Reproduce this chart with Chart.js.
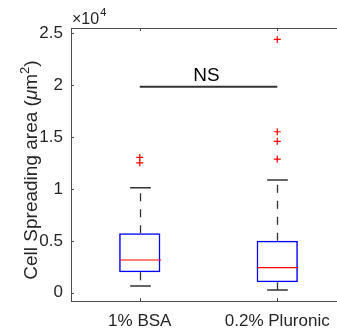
<!DOCTYPE html>
<html lang="en">
<head>
<meta charset="UTF-8" />
<style>
  html, body { margin: 0; padding: 0; background: #fff; overflow: hidden; }
  #wrap { width: 360px; height: 330px; }
</style>
<script src="https://cdn.jsdelivr.net/npm/chart.js"></script>
<title>Cell spreading area</title>
</head>
<body>
<div id="wrap"><canvas id="box" width="360" height="330"></canvas></div>
<script>
// values (um^2)
const groups = ["1% BSA", "0.2% Pluronic"];
const q1 = [1970, 1000];
const median = [3150, 2410];
const q3 = [5720, 5010];
const whiskerLow = [650, 260];
const whiskerHigh = [10120, 10860];
const outliersBSA = [12520, 13040];
const outliersPluronic = [12880, 14590, 15510, 24410];
const yTicks = [0, 5000, 10000, 15000, 20000, 25000];
const sigLevel = 19850;
const sigLabel = "NS";

const FONT = "'Liberation Sans', Arial, sans-serif";
const TXT = "#262626";
const AX = "#4d4d4d";

const outlierPts = outliersBSA.map(v => ({ x: groups[0], y: v }))
  .concat(outliersPluronic.map(v => ({ x: groups[1], y: v })));

// whiskers, caps, medians, frame, labels
const boxParts = {
  id: "boxParts",
  afterDatasetsDraw(chart) {
    const { ctx, chartArea: a, scales: { x, y } } = chart;
    const cat = a.width / groups.length;
    ctx.save();
    groups.forEach((g, i) => {
      const cx = Math.round(x.getPixelForValue(i)) + 0.5;
      const half = cat * 0.15, cap = cat * 0.075;
      ctx.strokeStyle = "#333";
      ctx.lineWidth = 1.3;
      ctx.setLineDash([8, 8]);
      ctx.beginPath();
      ctx.moveTo(cx, y.getPixelForValue(q3[i]));
      ctx.lineTo(cx, y.getPixelForValue(whiskerHigh[i]));
      ctx.moveTo(cx, y.getPixelForValue(q1[i]));
      ctx.lineTo(cx, y.getPixelForValue(whiskerLow[i]));
      ctx.stroke();
      ctx.setLineDash([]);
      ctx.lineWidth = 1.5;
      ctx.beginPath();
      [whiskerHigh[i], whiskerLow[i]].forEach(v => {
        const py = y.getPixelForValue(v);
        ctx.moveTo(cx - cap, py);
        ctx.lineTo(cx + cap, py);
      });
      ctx.stroke();
      ctx.strokeStyle = "#ff0000";
      ctx.lineWidth = 1.2;
      ctx.beginPath();
      const my = y.getPixelForValue(median[i]);
      ctx.moveTo(cx - half, my);
      ctx.lineTo(cx + half, my);
      ctx.stroke();
    });

    // significance label
    ctx.fillStyle = "#000";
    ctx.font = "19px " + FONT;
    ctx.textAlign = "center";
    ctx.textBaseline = "alphabetic";
    const mx = (x.getPixelForValue(0) + x.getPixelForValue(1)) / 2 - 2;
    ctx.fillText(sigLabel, mx, y.getPixelForValue(sigLevel) - 6);
    ctx.restore();
  },
  afterDraw(chart) {
    const { ctx, chartArea: a, scales: { x, y } } = chart;
    ctx.save();
    // frame
    ctx.strokeStyle = AX;
    ctx.lineWidth = 1;
    ctx.strokeRect(Math.round(a.left) + 0.5, Math.round(a.top) + 0.5,
      Math.round(a.width), Math.round(a.height));
    // inward ticks
    ctx.beginPath();
    yTicks.forEach(v => {
      const py = Math.round(y.getPixelForValue(v)) + 0.5;
      ctx.moveTo(a.left, py); ctx.lineTo(a.left + 3, py);
    });
    groups.forEach((g, i) => {
      const px = Math.round(x.getPixelForValue(i)) + 0.5;
      ctx.moveTo(px, a.bottom); ctx.lineTo(px, a.bottom - 3);
      ctx.moveTo(px, a.top); ctx.lineTo(px, a.top + 3);
    });
    ctx.stroke();

    // exponent label
    ctx.fillStyle = TXT;
    ctx.textAlign = "left";
    ctx.textBaseline = "alphabetic";
    ctx.font = "16px " + FONT;
    ctx.fillText("\u00d710", 72, 23.5);
    const w10 = ctx.measureText("\u00d710").width;
    ctx.font = "11px " + FONT;
    ctx.fillText("4", 72 + w10 + 1, 16);

    // y title with italic mu and superscript
    const parts = [
      ["Cell Spreading area (", "19px " + FONT, 0],
      ["\u03bc", "italic 19px " + FONT, 0],
      ["m", "19px " + FONT, 0],
      ["2", "13px " + FONT, -8],
      [")", "19px " + FONT, 0]
    ];
    let total = 0;
    parts.forEach(p => { ctx.font = p[1]; total += ctx.measureText(p[0]).width; });
    ctx.translate(37, 170);
    ctx.rotate(-Math.PI / 2);
    let cur = -total / 2;
    parts.forEach(p => {
      ctx.font = p[1];
      ctx.fillText(p[0], cur, p[2]);
      cur += ctx.measureText(p[0]).width;
    });
    ctx.restore();
  }
};

new Chart(document.getElementById("box"), {
  type: "bar",
  data: {
    labels: groups,
    datasets: [
      {
        type: "line",
        data: [{ x: groups[0], y: sigLevel }, { x: groups[1], y: sigLevel }],
        borderColor: "#333",
        borderWidth: 2.2,
        pointRadius: 0
      },
      {
        type: "scatter",
        data: outlierPts,
        pointStyle: "cross",
        pointRadius: 3.5,
        borderColor: "#ff0000",
        borderWidth: 1.2
      },
      {
        data: groups.map((g, i) => [q1[i], q3[i]]),
        backgroundColor: "rgba(0,0,0,0)",
        borderColor: "#0000ff",
        borderWidth: 1.5,
        borderSkipped: false,
        barPercentage: 0.3,
        categoryPercentage: 1
      }
    ]
  },
  options: {
    responsive: false,
    animation: false,
    layout: { padding: { top: 28, right: 14, left: 0, bottom: 0 } },
    plugins: { legend: { display: false }, tooltip: { enabled: false } },
    scales: {
      x: {
        type: "category",
        grid: { display: false, drawTicks: false },
        border: { display: false },
        ticks: { color: TXT, font: { family: FONT, size: 17 }, padding: 10 },
        afterFit: s => { s.height = 29; }
      },
      y: {
        min: -800,
        max: 25510,
        grid: { display: false, drawTicks: false },
        border: { display: false },
        ticks: {
          color: TXT,
          font: { family: FONT, size: 17 },
          padding: 8,
          callback: v => v / 10000
        },
        afterBuildTicks: s => { s.ticks = yTicks.map(v => ({ value: v })); },
        afterFit: s => { s.width = 71; }
      }
    }
  },
  plugins: [boxParts]
});
</script>
</body>
</html>
